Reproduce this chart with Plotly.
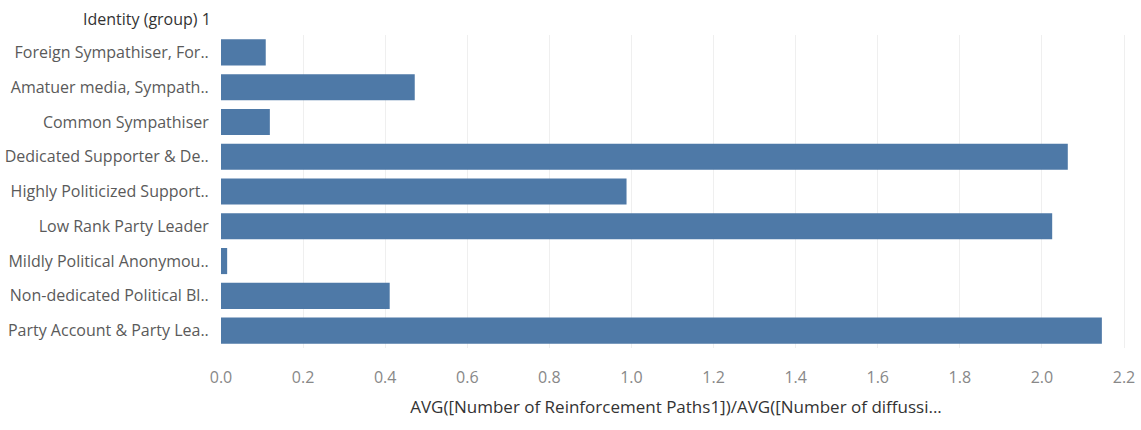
import plotly.graph_objects as go

categories = [
    "Foreign Sympathiser, For..",
    "Amatuer media, Sympath..",
    "Common Sympathiser",
    "Dedicated Supporter & De..",
    "Highly Politicized Support..",
    "Low Rank Party Leader",
    "Mildly Political Anonymou..",
    "Non-dedicated Political Bl..",
    "Party Account & Party Lea..",
]
values = [0.109, 0.472, 0.119, 2.063, 0.988, 2.025, 0.015, 0.411, 2.146]
tick_vals = [0.0, 0.2, 0.4, 0.6, 0.8, 1.0, 1.2, 1.4, 1.6, 1.8, 2.0, 2.2]
tick_text = ["0.0", "0.2", "0.4", "0.6", "0.8", "1.0", "1.2", "1.4", "1.6", "1.8", "2.0", "2.2"]

FONT = "Open Sans"

fig = go.Figure(
    go.Bar(
        x=values,
        y=categories,
        orientation="h",
        marker=dict(color="#4e79a7", line=dict(width=0)),
    )
)

fig.update_layout(
    width=1141,
    height=430,
    margin=dict(l=221, r=10, t=35, b=82),
    paper_bgcolor="white",
    plot_bgcolor="white",
    bargap=0.25,
    showlegend=False,
    font=dict(family=FONT, size=14, color="#555"),
)

fig.update_yaxes(
    autorange="reversed",
    automargin=False,
    showgrid=False,
    ticks="outside",
    ticklen=8,
    tickcolor="rgba(0,0,0,0)",
    tickfont=dict(family=FONT, size=16, color="#5a5a5a"),
    showline=False,
    zeroline=False,
)

fig.update_xaxes(
    range=[0, 2.217],
    automargin=False,
    tickvals=tick_vals,
    ticktext=tick_text,
    showgrid=True,
    gridcolor="#efefef",
    gridwidth=1,
    zeroline=False,
    showline=False,
    ticks="outside",
    ticklen=15,
    tickcolor="rgba(0,0,0,0)",
    tickfont=dict(family=FONT, size=16, color="#888"),
    title=dict(
        text="AVG([Number of Reinforcement Paths1])/AVG([Number of diffussi...",
        font=dict(family=FONT, size=17, color="#333"),
        standoff=13,
    ),
)

fig.add_annotation(
    text="Identity (group) 1",
    xref="paper", yref="paper",
    x=0, y=1,
    xanchor="right", yanchor="bottom",
    xshift=-8, yshift=3,
    showarrow=False,
    font=dict(family=FONT, size=16, color="#333"),
)

fig.write_html(
    "out.html",
    config={"displayModeBar": False},
    post_script="document.body.style.margin='0px';document.body.style.padding='0px';",
)
